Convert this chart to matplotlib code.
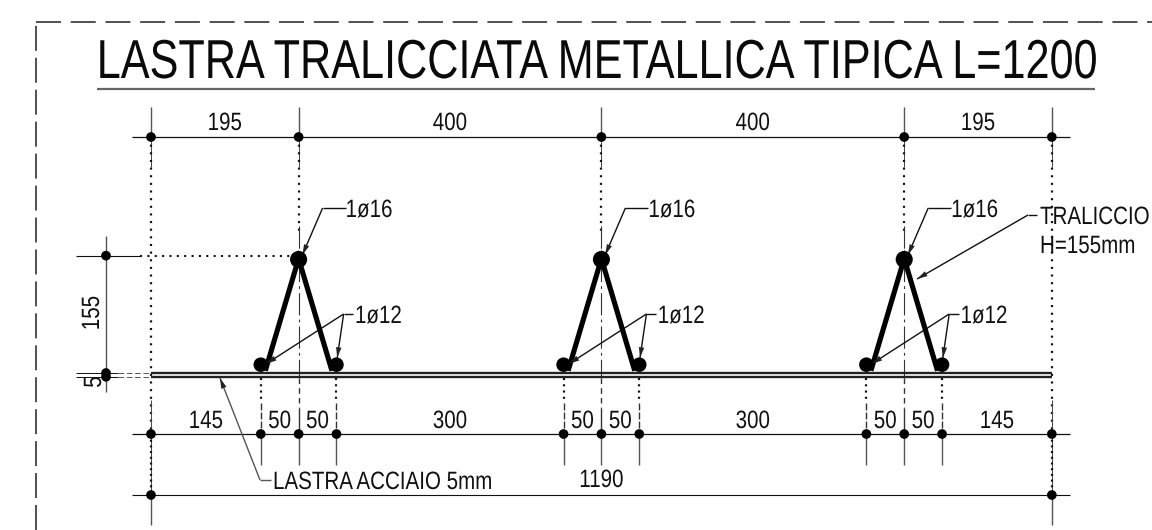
import numpy as np
import matplotlib
matplotlib.use("Agg")
import matplotlib.pyplot as plt
from matplotlib.patches import Circle, Polygon
from matplotlib.patheffects import AbstractPathEffect
from matplotlib.transforms import Affine2D

plt.rcParams['font.family'] = ['Liberation Sans', 'DejaVu Sans']
plt.rcParams['lines.scale_dashes'] = False

# ---- data (mm) ----
title = "LASTRA TRALICCIATA METALLICA TIPICA L=1200"
top_dims = [195, 400, 400, 195]
bottom_dims = [145, 50, 50, 300, 50, 50, 300, 50, 50, 145]
overall_dim = 1190
truss_height = 155
plate_thickness = 5
bar_offset = 50
bar_height = 11
top_bar_label = "1ø16"
low_bar_label = "1ø12"
truss_labels = ["TRALICCIO", "H=155mm"]
plate_label = "LASTRA ACCIAIO 5mm"

S = 0.757  # px per mm
W, H = 1152, 530
X0, Y0 = 151, 373
fig = plt.figure(figsize=(W / 100, H / 100), dpi=100)
ax = fig.add_axes([0, 0, 1, 1])
ax.set_xlim((0 - X0) / S, (W - X0) / S)
ax.set_ylim((Y0 - H) / S, Y0 / S)
ax.axis('off')

def X(p): return (p - X0) / S
def Y(p): return (Y0 - p) / S


class TallGlyphs(AbstractPathEffect):
    """CAD lettering is narrower than Liberation Sans: stretch the glyphs upward from the baseline."""
    def __init__(self, k):
        super().__init__()
        self.k = k

    def draw_path(self, renderer, gc, tpath, affine, rgbFace=None):
        renderer.draw_path(gc, tpath, Affine2D().scale(1, self.k) + affine, rgbFace)


DARK = '#111111'
GREY = '#555555'
def seg(xs, ys, color=DARK, lw=0.8, ls='-', z=2):
    ax.plot(xs, ys, color=color, lw=lw, ls=ls, zorder=z, solid_capstyle='butt', dash_capstyle='butt')
def dot(x, y, r=6.4):
    ax.add_patch(Circle((x, y), r, color='black', lw=0, zorder=5))
def arrow(tail, tip, color=DARK, lw=1.0, size=14, width=3.6):
    seg([tail[0], tip[0]], [tail[1], tip[1]], color=color, lw=lw)
    d = np.array(tip) - np.array(tail)
    d = d / np.hypot(*d)
    n = np.array([-d[1], d[0]])
    t = np.array(tip)
    ax.add_patch(Polygon([t, t - d * size + n * width, t - d * size - n * width], color='#222222', lw=0, zorder=4))
def txt(x, y, s, size=14.8, ha='center', rot=0, color='#111111', k=1.22):
    ax.text(x, y, s, fontsize=size, ha=ha, va='baseline', rotation=rot, color=color, zorder=6,
            rotation_mode='anchor', path_effects=[TallGlyphs(k)])

top_x = np.concatenate([[0], np.cumsum(top_dims)])
bot_x = np.concatenate([[0], np.cumsum(bottom_dims)])
trusses = top_x[1:-1]

# frame
seg([X(36.5), X(36.5)], [Y(H), Y(22)], color='#222222', lw=1.1, ls=(0, (18, 5)))
seg([X(36), X(W)], [Y(22), Y(22)], color='#222222', lw=1.1, ls=(0, (18, 7)))

# title
txt(X(596), Y(78), title, size=31.1, k=1.27, color='#0a0a0a')
seg([X(97), X(1095)], [Y(89), Y(89)], color='#666666', lw=1.6)

yt, ym, yb = Y(137), Y(434), Y(495)
xl, xr = X(132), X(1070)
for yy in (yt, ym, yb):
    seg([xl, xr], [yy, yy], lw=0.9 if yy != yb else 0.8)

DOT = '#111111'
# top dimension ticks and dots
for x in top_x:
    seg([x, x], [Y(107), yt], color=GREY, lw=1.0)
    seg([x, x], [yt, Y(167)], color='#444444', lw=0.7)
    dot(x, yt)
for a, b, v in zip(top_x[:-1], top_x[1:], top_dims):
    txt((a + b) / 2, Y(130), str(v))

# extremes: long witness lines
for x in (top_x[0], top_x[-1]):
    seg([x, x], [yt, ym], color=DOT, lw=1.6, ls=(0, (1.5, 4.0)))
    seg([x, x], [Y(400), yb], color='#444444', lw=0.7)
    seg([x, x], [ym, yb], color=DOT, lw=1.6, ls=(0, (1.5, 2.6)))
    seg([x, x], [yb, Y(525)], color=GREY, lw=1.0)
    dot(x, yb)

# truss centre lines
for x in trusses:
    seg([x, x], [yt, Y(232)], color=DOT, lw=1.6, ls=(0, (1.5, 4.0)))
    seg([x, x], [Y(226), Y(378)], color='#333333', lw=0.8, ls=(0, (16, 3, 2, 3)))
    seg([x, x], [Y(378), Y(408)], color='#333333', lw=1.0, ls=(0, (4, 3)))
    seg([x, x], [Y(408), ym], color='#333333', lw=1.0)

# bottom dimensions
for x in bot_x:
    dot(x, ym)
inner = bot_x[1:-1]
for x in inner:
    if x not in trusses:
        seg([x, x], [Y(378), Y(403)], color=DOT, lw=1.6, ls=(0, (1.5, 3.0)))
        seg([x, x], [Y(403), ym], color='#333333', lw=1.0, ls=(0, (5, 1.5)))
    seg([x, x], [ym, Y(465)], color=GREY, lw=1.0)
for a, b, v in zip(bot_x[:-1], bot_x[1:], bottom_dims):
    txt((a + b) / 2, Y(428), str(v))
txt(overall_dim / 2, Y(487), str(overall_dim))

# height dimension at left
xd = X(106)
seg([xd, xd], [Y(236), Y(392)], color=GREY, lw=1.0)
for yy in (truss_height, 0, -plate_thickness):
    dot(xd, yy)
seg([X(76), X(140)], [truss_height, truss_height], lw=0.8)
seg([X(140), trusses[0]], [truss_height, truss_height], color=DOT, lw=1.5, ls=(0, (1.5, 3.8)))
for yy in (0, -plate_thickness):
    seg([X(76), X(118)], [yy, yy], lw=0.7)
    seg([X(118), X(151)], [yy, yy], color='#555555', lw=0.7, ls=(0, (4, 2)))
txt(X(99), Y(313), str(truss_height), rot=90)
txt(X(101), Y(382), str(plate_thickness), rot=90)

# plate
seg([0, overall_dim], [0, 0], color='#222222', lw=1.7)
seg([0, overall_dim], [-plate_thickness, -plate_thickness], color='#222222', lw=1.7)

# trusses
for x in trusses:
    ax.plot([x - 44, x, x + 44], [3, truss_height - 4, 3], color='black', lw=3.7, zorder=4,
            solid_joinstyle='miter', solid_capstyle='butt')
    dot(x, truss_height - 5, 11.3)
    dot(x - bar_offset, bar_height, 9.6)
    dot(x + bar_offset, bar_height, 9.6)
    # top bar leader
    seg([x + X(345) - X(298), x + X(322) - X(298)], [Y(208), Y(208)], lw=1.0)
    arrow((x + X(322) - X(298), Y(208)), (x + 5, truss_height + 1))
    txt(x + X(345) - X(298), Y(217), top_bar_label, ha='left')
    # low bars leader
    xk = x + X(343) - X(298)
    seg([xk, xk + 13], [Y(314), Y(314)], lw=1.0)
    arrow((xk, Y(314)), (x - bar_offset + 7, bar_height + 1))
    arrow((xk, Y(314)), (x + bar_offset + 1, bar_height + 9))
    txt(xk + 15, Y(323), low_bar_label, ha='left')

# truss leader
arrow((X(1028), Y(215)), (X(917), Y(279)))
seg([X(1028), X(1037)], [Y(215), Y(215)], lw=1.0)
txt(X(1040), Y(224), truss_labels[0], ha='left')
txt(X(1040), Y(253), truss_labels[1], ha='left')

# plate leader
arrow((X(260), Y(480)), (X(220), Y(378)), color=GREY)
seg([X(260), X(271)], [Y(480), Y(480)], color=GREY, lw=1.0)
txt(X(273), Y(489), plate_label, ha='left')

fig.savefig('out.png', dpi=100, facecolor='white')
